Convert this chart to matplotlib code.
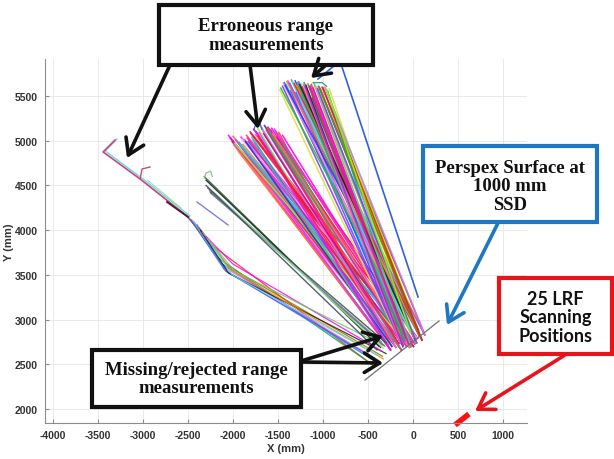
import matplotlib
matplotlib.use("Agg")
import matplotlib.pyplot as plt
from matplotlib.patches import Rectangle, FancyArrowPatch

# ---------------- data (mm) ----------------
x_ticks = [-4000, -3500, -3000, -2500, -2000, -1500, -1000, -500, 0, 500, 1000]
y_ticks = [2000, 2500, 3000, 3500, 4000, 4500, 5000, 5500]

# Perspex surface trace
perspex_x = [-533, 289]
perspex_y = [2324, 2984]

# LRF scanning positions (start / end of the scan path)
scan_x = [467, 622]
scan_y = [1821, 1944]

# Main fan, lower-left group: far ends and near ends
fan_a_top_x = [-2050, -2010, -1990, -1970, -1950, -1930, -1910, -1890, -1870, -1850,
               -1830, -1810, -1790, -1770, -1750, -1730, -1710, -1690, -1670, -1650,
               -1630, -1610, -1590, -1570, -1550, -1530, -1510, -1490, -1470, -1450,
               -1940, -1880, -1820, -1760, -1700, -1640,
               -2030, -2000, -1980, -1960, -1920, -1900, -1860, -1840, -1800, -1780,
               -1740, -1720, -1680, -1660, -1620, -1600, -1580, -1560, -1540, -1520]
fan_a_top_y = [5060, 4990, 4950, 5010, 4920, 4980, 5040, 4960, 5010, 5060,
               4990, 5100, 5040, 5130, 5070, 5150, 5090, 5160, 5110, 5170,
               5120, 5150, 5100, 5140, 5060, 5110, 5040, 5090, 5000, 5060,
               4880, 4900, 4940, 4980, 5020, 5050,
               5030, 5050, 4970, 5000, 4960, 5020, 4990, 5030, 5080, 5010,
               5100, 5050, 5130, 5080, 5150, 5100, 5120, 5080, 5130, 5090]
fan_a_base_x = [-280, -250, -220, -190, -160, -130, -100, -70, -40, -10, 20, 50, -235, -115, 5]
fan_a_base_y = [2720, 2660, 2750, 2690, 2730, 2660, 2770, 2700, 2690, 2750, 2730, 2790, 2700, 2720, 2700]

# Main fan, upper group
fan_b_top_x = [-1480, -1450, -1430, -1410, -1390, -1370, -1350, -1330, -1310, -1290,
               -1270, -1250, -1230, -1210, -1190, -1170, -1150, -1130, -1110, -1090,
               -1070, -1050, -1030, -1010, -990, -970, -950, -930,
               -1360, -1300, -1240, -1180, -1120,
               -1470, -1440, -1420, -1400, -1380, -1340, -1320, -1280, -1260, -1220,
               -1200, -1160, -1140, -1100, -1080, -1060, -1040, -1000, -980, -960]
fan_b_top_y = [5570, 5610, 5650, 5630, 5670, 5640, 5680, 5650, 5670, 5620,
               5660, 5640, 5600, 5650, 5620, 5640, 5600, 5630, 5590, 5620,
               5600, 5610, 5580, 5600, 5570, 5590, 5560, 5580,
               5560, 5540, 5520, 5500, 5480,
               5590, 5640, 5620, 5660, 5650, 5660, 5640, 5650, 5630, 5630,
               5610, 5620, 5610, 5640, 5600, 5580, 5600, 5590, 5600, 5570]
fan_b_base_x = [-140, -110, -80, -50, -20, 10, 40, 70, 100, 130, -30, 60, -95, 25]
fan_b_base_y = [2740, 2700, 2790, 2730, 2700, 2800, 2740, 2820, 2770, 2830, 2860, 2880, 2760, 2770]

# Longest trace on the right of the fan
long_x = [-1056, -811, 56]
long_y = [5691, 5893, 3253]

# Hooks at the far ends of the fan
hook_a_x = [-1770, -1750, -1700, -1680]
hook_a_y = [5120, 5180, 5190, 5130]
hook_b_x = [-1110, -1010, -960]
hook_b_y = [5650, 5650, 5610]

# Far-left erroneous trace (two overlapping copies)
left_pink_x = [-3311, -3444, -3033, -2500]
left_pink_y = [5009, 4875, 4573, 4148]
left_cyan_x = [-3290, -3420, -3010, -2480]
left_cyan_y = [5020, 4885, 4580, 4160]
left_hook_x = [-3033, -3011, -2922]
left_hook_y = [4573, 4685, 4707]
left_dark_x = [-2733, -2500]
left_dark_y = [4315, 4148]
left_green_x = [-2950, -2580]
left_green_y = [4560, 4250]
lavender_x = [-2400, -2055]
lavender_y = [4315, 4058]

# Lower-left cluster: start, bend, end
clu_start_x = [-2510, -2490, -2470, -2450, -2430, -2400, -2380, -2360, -2340, -2320, -2300, -2280]
clu_start_y = [4150, 4140, 4120, 4110, 4090, 4060, 4030, 4000, 3980, 3960, 3930, 3900]
clu_mid_x = [-2220, -2180, -2150, -2120, -2100, -2080, -2060, -2050, -2030, -2010, -2000, -1980]
clu_mid_y = [3820, 3700, 3640, 3600, 3560, 3540, 3600, 3520, 3560, 3500, 3620, 3540]
clu_end_x = [-460, -430, -400, -380, -360, -420, -340, -300, -330, -390, -350, -310]
clu_end_y = [2500, 2480, 2520, 2540, 2500, 2560, 2590, 2620, 2560, 2600, 2650, 2700]

# Middle-left dark cluster
mid_start_x = [-2320, -2300, -2280, -2260, -2250, -2230, -2210, -2300]
mid_start_y = [4600, 4560, 4470, 4440, 4420, 4400, 4420, 4500]
mid_end_x = [-380, -360, -340, -320, -300, -350, -330, -400]
mid_end_y = [2700, 2690, 2720, 2710, 2740, 2750, 2680, 2660]
mid_hook_x = [-2320, -2300, -2250, -2230]
mid_hook_y = [4580, 4640, 4660, 4600]

# ---------------- styles ----------------
fan_a_colors = ['#ff00ff', '#ff2020', '#ff66cc', '#e0007f', '#ff4040', '#00c060',
                '#ff00ff', '#ff8040', '#c040ff', '#ff3399', '#4060ff', '#ff0080',
                '#20c0ff', '#cc00cc', '#ff6060', '#80ff40', '#9966ff', '#00e0e0',
                '#ff99ff', '#3030c0', '#ff1493', '#e02020', '#40c0a0']
fan_b_colors = ['#e0e040', '#8040ff', '#3050ff', '#00d0d0', '#ff40ff', '#7030a0',
                '#30c030', '#ff80c0', '#2040ff', '#ff8000', '#a060ff', '#40e0ff',
                '#ff2020', '#20b050', '#202020', '#ff66aa', '#9933cc', '#996633',
                '#ff00cc', '#60d060', '#ff9080', '#4060e0', '#808000', '#e02020',
                '#b080ff', '#80ff00', '#00b0b0']
clu_colors = ['#ff2020', '#20a040', '#3050ff', '#ff66cc', '#00d0d0', '#8040ff',
              '#808000', '#202020', '#ff8000', '#40e0ff', '#ff00ff', '#60d060']
mid_colors = ['#2e6b3a', '#202020', '#5a8a50', '#707070', '#3a5a3a', '#8080c0',
              '#90e090', '#405060']

W, H = 614, 460
fig = plt.figure(figsize=(W / 100, H / 100), dpi=100)
ax = fig.add_axes([45 / W, (H - 424) / H, (527 - 45) / W, (424 - 60) / H])

LW = 1.15
for i, (tx, ty) in enumerate(zip(fan_a_top_x, fan_a_top_y)):
    j = i % len(fan_a_base_x)
    ax.plot([fan_a_base_x[j], tx], [fan_a_base_y[j], ty],
            color=fan_a_colors[i % len(fan_a_colors)], lw=LW, alpha=0.9)
for i, (tx, ty) in enumerate(zip(fan_b_top_x, fan_b_top_y)):
    j = i % len(fan_b_base_x)
    ax.plot([fan_b_base_x[j], tx], [fan_b_base_y[j], ty],
            color=fan_b_colors[i % len(fan_b_colors)], lw=LW, alpha=0.9)
ax.plot(long_x, long_y, color='#3060e0', lw=1.2)
ax.plot(hook_a_x, hook_a_y, color='#8040ff', lw=0.9)
ax.plot(hook_b_x, hook_b_y, color='#30a080', lw=0.9)

for i in range(len(clu_start_x)):
    ax.plot([clu_start_x[i], clu_mid_x[i], clu_end_x[i]],
            [clu_start_y[i], clu_mid_y[i], clu_end_y[i]],
            color=clu_colors[i % len(clu_colors)], lw=0.9, alpha=0.85)
for i in range(len(mid_start_x)):
    ax.plot([mid_start_x[i], mid_end_x[i]], [mid_start_y[i], mid_end_y[i]],
            color=mid_colors[i % len(mid_colors)], lw=1.0, alpha=0.9)
ax.plot(mid_hook_x, mid_hook_y, color='#80d080', lw=0.9)

ax.plot(left_cyan_x, left_cyan_y, color='#60e0e0', lw=1.0)
ax.plot(left_pink_x, left_pink_y, color='#d04080', lw=1.2)
ax.plot(left_hook_x, left_hook_y, color='#c05070', lw=1.0)
ax.plot(left_green_x, left_green_y, color='#a0e0a0', lw=0.8)
ax.plot(left_dark_x, left_dark_y, color='#502030', lw=1.4)
ax.plot(lavender_x, lavender_y, color='#8080e0', lw=1.0)

ax.plot(perspex_x, perspex_y, color='#707070', lw=0.9)
ax.plot(scan_x, scan_y, color='#ff1010', lw=4, solid_capstyle='butt', clip_on=False)

# ---------------- axes styling ----------------
ax.set_xlim(-4090, 1267)
ax.set_ylim(1843, 5915)
ax.set_xticks(x_ticks)
ax.set_yticks(y_ticks)
ax.set_xticklabels([str(v) for v in x_ticks])
ax.set_yticklabels([str(v) for v in y_ticks])
ax.grid(True, color='#e6e6e6', lw=0.6)
ax.set_axisbelow(True)
for s in ('top', 'right'):
    ax.spines[s].set_visible(False)
for s in ('left', 'bottom'):
    ax.spines[s].set_color('#8c8c8c')
    ax.spines[s].set_linewidth(0.8)
ax.tick_params(direction='in', length=3, color='#8c8c8c', labelsize=7.5,
               labelcolor='#333333', pad=5)
for lab in ax.get_xticklabels() + ax.get_yticklabels():
    lab.set_fontweight('bold')
    lab.set_family('Liberation Sans')
ax.set_xlabel('X (mm)', fontsize=8, fontweight='bold', color='#333333',
              family='Liberation Sans', labelpad=2)
ax.set_ylabel('Y (mm)', fontsize=8, fontweight='bold', color='#333333',
              family='Liberation Sans', labelpad=1)

# ---------------- annotations (figure pixel coordinates) ----------------
def fx(x):
    return x / W

def fy(y):
    return 1 - y / H

def box(x0, y0, x1, y1, edge, lw=3.0):
    fig.add_artist(Rectangle((fx(x0), fy(y1)), (x1 - x0) / W, (y1 - y0) / H,
                             transform=fig.transFigure, facecolor='white',
                             edgecolor=edge, lw=lw, zorder=5))

def label(x, y, s, family, weight='bold', size=13.5, color='#111111'):
    fig.text(fx(x), fy(y), s, ha='center', va='center', fontsize=size,
             fontweight=weight, family=family, color=color, linespacing=1.12,
             zorder=6)

def arrow(p0, p1, color, lw=2.6):
    fig.add_artist(FancyArrowPatch((fx(p0[0]), fy(p0[1])), (fx(p1[0]), fy(p1[1])),
                                   transform=fig.transFigure,
                                   arrowstyle='->,head_length=0.55,head_width=0.35',
                                   mutation_scale=20, color=color, lw=lw,
                                   shrinkA=0, shrinkB=0, zorder=7))

serif = ['Liberation Serif', 'DejaVu Serif']

box(159, 6, 373, 66, '#111111')
label(266, 36, 'Erroneous range\nmeasurements', serif)
arrow((170, 66), (127, 159), '#111111')
arrow((250, 66), (258, 130), '#111111')
arrow((326, 66), (311, 79), '#111111')

box(92, 351, 301, 408, '#111111')
label(196.5, 379.5, 'Missing/rejected range\nmeasurements', serif)
arrow((301, 362), (383, 337), '#111111')
arrow((301, 363), (383, 364), '#111111')

box(423, 147, 597, 223, '#1f77c4')
label(510, 187, 'Perspex Surface at\n1000 mm\nSSD', serif)
arrow((498, 224), (447, 326), '#1f77c4')

box(499, 279, 612, 355, '#e8141b')
label(555.5, 318, '25 LRF\nScanning\nPositions', ['Lato', 'DejaVu Sans'],
      weight='bold', size=13)
arrow((565, 356), (475, 412), '#e8141b')

fig.savefig('out.png', dpi=100, facecolor='white')
